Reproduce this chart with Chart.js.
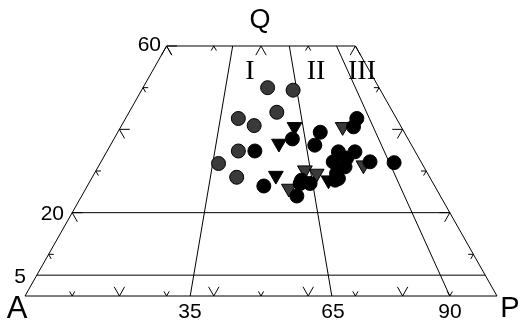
<!DOCTYPE html>
<html>
<head>
<meta charset="utf-8">
<script src="https://cdn.jsdelivr.net/npm/chart.js@4.4.0/dist/chart.umd.min.js"></script>
<style>
  html, body { margin: 0; padding: 0; background: #fff; }
  #wrap { width: 526px; height: 324px; }
</style>
</head>
<body>
<div id="wrap"><canvas id="qap" width="526" height="324"></canvas></div>
<script>
// Datos (Q y P en %, A = 100 - Q - P)
const grayCircQ = [50.0, 49.4, 44.1, 42.6, 40.9, 34.8, 31.8, 28.5];
const grayCircP = [26.4, 32.1, 31.3, 23.9, 28.1, 27.8, 25.1, 30.6];

const blackCircQ = [34.8, 26.4, 37.7, 24.0, 27.0, 42.6, 40.6, 39.3, 36.2, 34.6, 34.6, 32.2, 31.0, 32.2, 29.4, 28.2, 32.0, 27.8, 27.0, 33.1, 27.8];
const blackCircP = [31.3, 37.4, 37.8, 45.6, 44.8, 49.0, 49.3, 42.9, 43.3, 49.1, 52.6, 49.2, 52.3, 57.0, 51.3, 52.3, 62.2, 44.7, 46.9, 51.6, 51.8];

const blackTriQ = [40.6, 36.6, 28.9, 27.8];
const blackTriP = [36.8, 35.5, 38.7, 50.4];

const grayTriQ = [25.8, 30.2, 29.4, 40.6, 31.4];
const grayTriP = [43.0, 44.2, 47.1, 47.0, 56.0];

// lineas del diagrama
const qMax = 60;
const gridQ = [20, 5];
const rayP = [35, 65, 90];   // P/(A+P) en %
const tickSteps = [0, 10, 20, 30, 40, 50, 60, 70, 80, 90];

const corte = { x: null, y: null };

// Paso 1: pasar de ternario a x/y
function tern(q, p) {
    return { x: p + q / 2, y: q };
}

function serie(qs, ps) {
    return qs.map((q, i) => tern(q, ps[i]));
}

// Paso 2: segmentos de las lineas
const marco = [
    tern(0, 0), tern(0, 100), tern(qMax, 100 - qMax), tern(qMax, 0), tern(0, 0)
];

const rejilla = [];
gridQ.forEach(q => {
    rejilla.push(tern(q, 0), tern(q, 100 - q), corte);
});
rayP.forEach(r => {
    rejilla.push(tern(0, r), tern(qMax, r * (100 - qMax) / 100), corte);
});

// marcas de los bordes (dos brazos hacia dentro)
const marcas = [];
function marca(q, p, dq1, dp1, dq2, dp2, s) {
    marcas.push(tern(q + dq1 * s, p + dp1 * s), tern(q, p), tern(q + dq2 * s, p + dp2 * s), corte);
}
function tam(v) { return v % 20 === 0 ? 2.2 : 1.1; }

tickSteps.forEach(v => {
    if (v > 0) marca(0, v, 1, -1, 1, 0, tam(v));                  // base A-P
    if (v > 0 && v <= qMax) marca(v, 0, 0, 1, -1, 1, tam(v));     // lado A-Q
    if (v > 0 && v < qMax) marca(v, 100 - v, 0, -1, -1, 0, tam(v)); // lado P-Q
    if (v <= 100 - qMax) marca(qMax, v, -1, 0, -1, 1, tam(100 - qMax - v)); // arriba
});

// Paso 3: textos
const etiquetas = [
    { t: 'Q', x: 260, y: 21, f: '27px "Liberation Sans"', a: 'center' },
    { t: 'A', x: 17, y: 309, f: '31px "Liberation Sans"', a: 'center' },
    { t: 'P', x: 510, y: 309, f: '29px "Liberation Sans"', a: 'center' },
    { t: '60', x: 161, y: 45, f: '21px "Liberation Sans"', a: 'right' },
    { t: '20', x: 64, y: 214, f: '21px "Liberation Sans"', a: 'right' },
    { t: '5', x: 26, y: 277, f: '21px "Liberation Sans"', a: 'right' },
    { t: '35', x: 190, y: 312, f: '21px "Liberation Sans"', a: 'center' },
    { t: '65', x: 333, y: 312, f: '21px "Liberation Sans"', a: 'center' },
    { t: '90', x: 450, y: 312, f: '21px "Liberation Sans"', a: 'center' },
    { t: 'I', x: 250, y: 72, f: '28px "Liberation Serif"', a: 'center' },
    { t: 'II', x: 316, y: 72, f: '28px "Liberation Serif"', a: 'center' },
    { t: 'III', x: 362, y: 72, f: '28px "Liberation Serif"', a: 'center' }
];

const textos = {
    id: 'textos',
    afterDraw(chart) {
        const ctx = chart.ctx;
        ctx.save();
        ctx.fillStyle = '#000';
        ctx.textBaseline = 'middle';
        etiquetas.forEach(e => {
            ctx.font = e.f;
            ctx.textAlign = e.a;
            ctx.fillText(e.t, e.x, e.y);
        });
        ctx.restore();
    }
};

const linea = (data) => ({
    data: data,
    showLine: true,
    spanGaps: false,
    borderColor: '#000',
    borderWidth: 1,
    pointRadius: 0,
    fill: false,
    order: 3
});

// Paso 4: grafica
new Chart(document.getElementById('qap'), {
    type: 'scatter',
    data: {
        datasets: [
            linea(marco),
            linea(rejilla),
            linea(marcas),
            {
                data: serie(grayCircQ, grayCircP),
                pointStyle: 'circle', pointRadius: 7,
                backgroundColor: '#3a3a3a', borderColor: '#000', borderWidth: 1, order: 1
            },
            {
                data: serie(blackCircQ, blackCircP),
                pointStyle: 'circle', pointRadius: 7,
                backgroundColor: '#000', borderColor: '#000', borderWidth: 1, order: 1
            },
            {
                data: serie(blackTriQ, blackTriP),
                pointStyle: 'triangle', rotation: 180, pointRadius: 8.5,
                backgroundColor: '#000', borderColor: '#000', borderWidth: 1, order: 1
            },
            {
                data: serie(grayTriQ, grayTriP),
                pointStyle: 'triangle', rotation: 180, pointRadius: 8.5,
                backgroundColor: '#3a3a3a', borderColor: '#000', borderWidth: 1, order: 1
            }
        ]
    },
    options: {
        responsive: false,
        animation: false,
        layout: { padding: 0, autoPadding: false },
        plugins: { legend: { display: false }, tooltip: { enabled: false } },
        scales: {
            x: { type: 'linear', display: false, min: -25 / 4.72, max: 501 / 4.72 },
            y: { type: 'linear', display: false, min: -28 / 4.1667, max: 296 / 4.1667 }
        }
    },
    plugins: [textos]
});
</script>
</body>
</html>
